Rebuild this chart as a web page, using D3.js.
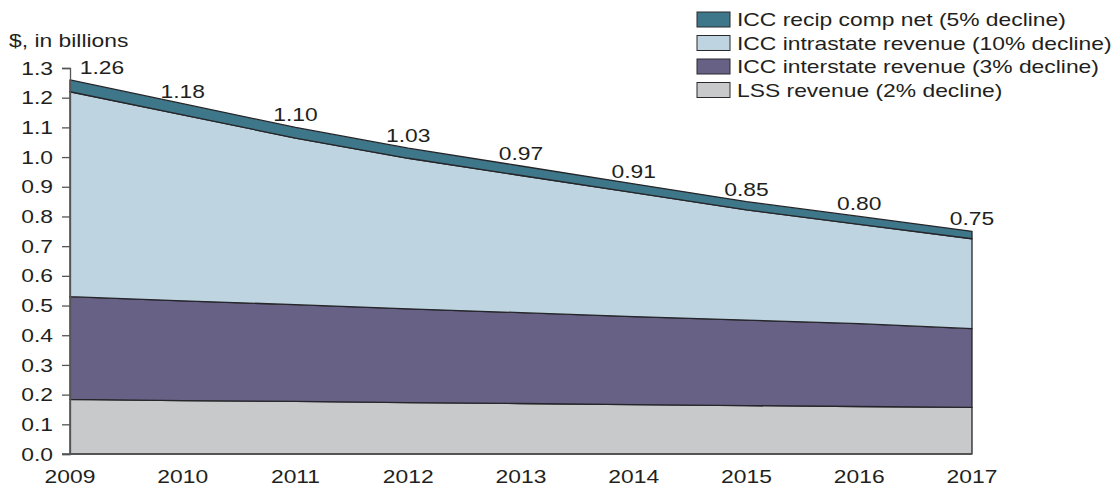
<!DOCTYPE html>
<meta charset="utf-8">
<style>
body { margin: 0; background: #fff; }
text { font-family: "Liberation Sans", Arial, sans-serif; fill: #231f20; font-size: 18px; }
</style>
<svg width="1117" height="487"></svg>
<script src="https://cdn.jsdelivr.net/npm/d3@7"></script>
<script>
var years = [2009, 2010, 2011, 2012, 2013, 2014, 2015, 2016, 2017]
var totals = [1.26, 1.18, 1.10, 1.03, 0.97, 0.91, 0.85, 0.80, 0.75]
var lss = [0.184, 0.180, 0.177, 0.173, 0.170, 0.166, 0.163, 0.160, 0.157]
var interstate = [0.346, 0.336, 0.326, 0.316, 0.306, 0.297, 0.288, 0.279, 0.265]
var intrastate = [0.690, 0.626, 0.561, 0.507, 0.462, 0.417, 0.371, 0.334, 0.303]
var recip = [0.040, 0.038, 0.036, 0.034, 0.032, 0.030, 0.028, 0.027, 0.025]
var yTicks = [0, 0.1, 0.2, 0.3, 0.4, 0.5, 0.6, 0.7, 0.8, 0.9, 1.0, 1.1, 1.2, 1.3]

var keys = ["lss", "inter", "intra", "recip"]
var labels = {
  recip: "ICC recip comp net (5% decline)",
  intra: "ICC intrastate revenue (10% decline)",
  inter: "ICC interstate revenue (3% decline)",
  lss: "LSS revenue (2% decline)"
}
var colors = { recip: "#3e7789", intra: "#bed4e1", inter: "#676186", lss: "#c8c9cb" }

// the original text is drawn wider than the font normally is
var sx = 1.27

var rows = years.map(function(y, i){
  return { year: y, lss: lss[i], inter: interstate[i], intra: intrastate[i], recip: recip[i] }
})

var svg = d3.select("svg")
var x = d3.scaleLinear().domain([2009, 2017]).range([70, 972])
var y = d3.scaleLinear().domain([0, 1.3]).range([454, 68])

function place(px, py){
  return "translate(" + px + "," + py + ") scale(" + sx + ",1)"
}

var stack = d3.stack().keys(keys)(rows)

var area = d3.area()
  .x(function(d){ return x(d.data.year) })
  .y0(function(d){ return y(d[0]) })
  .y1(function(d){ return y(d[1]) })

svg.append("g").selectAll("path")
  .data(stack)
  .enter().append("path")
    .attr("d", area)
    .attr("fill", function(d){ return colors[d.key] })
    .attr("stroke", "#26262a")
    .attr("stroke-width", 1.3)
    .attr("stroke-linejoin", "round")

// y axis
var yAxis = d3.axisLeft(y).tickValues(yTicks).tickSize(8).tickFormat(d3.format(".1f"))
var ga = svg.append("g").attr("transform", "translate(70,0)").call(yAxis)
ga.select(".domain").attr("stroke", "#555").attr("stroke-width", 1.3)
ga.selectAll(".tick line").attr("stroke", "#555").attr("stroke-width", 1.3)
ga.selectAll(".tick text")
  .attr("x", -17 / sx).attr("dy", "0.34em")
  .attr("transform", "scale(" + sx + ",1)")
  .style("font-size", "18px").style("font-family", "Liberation Sans, Arial, sans-serif").attr("fill", "#231f20")

// x baseline and labels
svg.append("line").attr("x1", 62).attr("x2", x(2017)).attr("y1", y(0)).attr("y2", y(0))
  .attr("stroke", "#555").attr("stroke-width", 1.3)
svg.append("g").selectAll("text")
  .data(years)
  .enter().append("text")
    .attr("transform", function(d){ return place(x(d), 483) })
    .attr("text-anchor", "middle")
    .text(function(d){ return d })

// total labels
svg.append("g").selectAll("text")
  .data(rows)
  .enter().append("text")
    .attr("transform", function(d, i){ return place(x(d.year) + (i === 0 ? 32 : 0), y(totals[i]) - 6) })
    .attr("text-anchor", "middle")
    .text(function(d, i){ return totals[i].toFixed(2) })

svg.append("text").attr("transform", place(9, 47)).text("$, in billions")

// legend
var leg = svg.append("g").selectAll("g")
  .data(["recip", "intra", "inter", "lss"])
  .enter().append("g")
    .attr("transform", function(d, i){ return "translate(697," + (12 + i * 23.5) + ")" })
leg.append("rect").attr("width", 33).attr("height", 15)
  .attr("fill", function(d){ return colors[d] }).attr("stroke", "#2a2a2e").attr("stroke-width", 1)
leg.append("text").attr("transform", place(40, 14))
  .text(function(d){ return labels[d] })
</script>
